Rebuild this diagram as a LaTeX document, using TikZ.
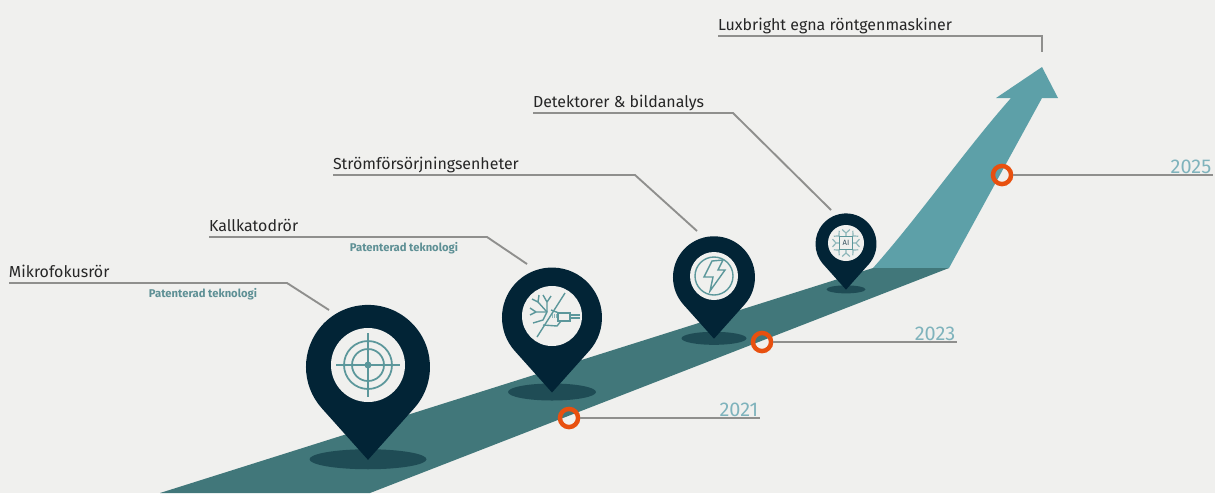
\documentclass[tikz,border=0pt]{standalone}
\usepackage{fontspec}
\setmainfont{Fira Sans}
\usepackage{xcolor}
\usetikzlibrary{positioning,calc}

\definecolor{bgcol}{HTML}{F0F0EE}
\definecolor{roadcol}{HTML}{41777A}
\definecolor{arrowcol}{HTML}{5DA0A8}
\definecolor{shadowcol}{HTML}{1F4C55}
\definecolor{pincol}{HTML}{022436}
\definecolor{iconcol}{HTML}{5C979B}
\definecolor{ringcol}{HTML}{E8500F}
\definecolor{yearcol}{HTML}{7FB3BC}
\definecolor{notecol}{HTML}{5E9095}
\definecolor{leadcol}{HTML}{8F8F8D}

% pin: x, y, radius, inner radius, shadow rx, shadow ry
\newcommand{\mappin}[6]{
	\fill[shadowcol] (#1, #2+1.52*#3) ellipse [x radius=#5, y radius=#6];
	\begin{scope}[shift={(#1, #2+0.03*#3)}, x=#3*0.03cm, y=#3*0.03cm]
		\fill[pincol] (0, -1.5) -- (0.745, -0.667) arc[start angle=-41.8, end angle=221.8, radius=1] -- cycle;
	\end{scope}
	\fill[bgcol] (#1, #2) circle [radius=#4];
}

\begin{document}
\begin{tikzpicture}[
						x=0.03cm, y=-0.03cm,
						leader/.style={
							draw=leadcol, line width=1.6pt, line join=miter
						},
						lbl/.style={
							font=\fontsize{13.6}{15}\selectfont, text=black!85,
							anchor=south west, inner sep=0pt, outer sep=0pt,
							text height=11pt, text depth=4.4pt
						},
						note/.style={
							font=\fontsize{9.6}{11}\selectfont\bfseries, text=notecol,
							inner sep=0pt
						},
						yearlbl/.style={
							font=\fontsize{17}{19}\selectfont, text=yearcol,
							anchor=south east, inner xsep=1.5pt, inner ysep=0pt, outer sep=0pt,
							text height=13pt, text depth=1.5pt
						},
						ring/.style={
							circle, draw=ringcol, line width=3.8pt,
							minimum size=15.5pt, inner sep=0pt
						},
						icon/.style={
							draw=iconcol, line width=1.2pt
						}
						]
						\useasboundingbox (0, 0) rectangle (1215, 493);
						\fill[bgcol] (0, 0) rectangle (1215, 493);
						
						% === Arrow and road ===
						\fill[arrowcol] (873, 268) .. controls (920, 215) and (965, 150) .. (1011, 98)
							-- (996, 98) -- (1042, 67) -- (1058, 98) -- (1042, 98) -- (949, 268) -- cycle;
						\fill[roadcol] (160, 493) -- (873, 268) -- (949, 268) -- (370, 493) -- cycle;
						
						% === Pins ===
						\mappin{368}{365}{62}{37}{58.5}{10}
						\mappin{552}{316}{50}{30}{44}{8.5}
						\mappin{714}{276}{41}{24}{32.5}{6.5}
						\mappin{846}{243}{30.5}{18}{19.5}{4}
						
						% Target icon
						\begin{scope}[shift={(368, 365)}]
							\draw[icon, line width=1.5pt] (0, 0) circle [radius=24] (0, 0) circle [radius=16];
							\draw[icon, line width=1.5pt] (-32, 0) -- (32, 0) (0, -32) -- (0, 32);
							\fill[iconcol] (0, 0) circle [radius=3.5];
						\end{scope}
						
						% Neuron icon
						\begin{scope}[shift={(552, 316)}]
							\draw[icon] (13, -23) -- (-15, 21);
							\draw[icon] (-5, -4) -- (-14, -14) (-14, -14) -- (-20, -17) (-14, -14) -- (-13, -21);
							\draw[icon] (-5, -4) -- (-5, -14) (-5, -14) -- (-9, -21) (-5, -14) -- (-1, -20);
							\draw[icon] (-5, -4) -- (-16, -4) (-16, -4) -- (-22, -8) (-16, -4) -- (-22, -1);
							\draw[icon] (-5, -4) -- (-9, 4) -- (-19, 7);
							\draw[icon] (-1, -6) -- (7, -3) (-9, 9) -- (5, 10) -- (9, 5);
							\draw[icon] (6, -3) rectangle (18, 5);
							\draw[icon] (18, -1) -- (28, -1) (18, 2) -- (28, 2);
							\draw[icon, draw=iconcol!70, line width=0.6pt] (0, -2) -- (0, 2) (2, -2) -- (2, 2) (4, -2) -- (4, 2);
						\end{scope}
						
						% Bolt icon
						\begin{scope}[shift={(714, 276)}]
							\draw[icon] (0, 0) circle [radius=19];
							\draw[icon, fill=bgcol, line join=miter] (-2, -15) -- (9, -16) -- (4, -6) -- (11, -6) -- (-4, 15) -- (-1, 1) -- (-10, 1) -- cycle;
						\end{scope}
						
						% Chip icon
						\begin{scope}[shift={(846, 243)}]
							\foreach \ang in {0, 45, ..., 315} {
								\draw[icon, draw=iconcol!70, line width=1pt] (\ang:6) -- (\ang:10) (\ang:10) -- (\ang+16:14) (\ang:10) -- (\ang-16:14);
							}
							\node[draw=iconcol, fill=bgcol, line width=0.7pt, minimum size=11pt, inner sep=0pt, font=\fontsize{6.5}{7}\selectfont, text=pincol!80] (chip) at (0, 0) {AI};
						\end{scope}
						
						% === Labels and leader lines ===
						\foreach \txt/\xa/\ya/\xb/\xc/\yc [count=\i] in {
							Mikrofokusrör/9/283/287/329/310,
							Kallkatodrör/209/237/487/527/264,
							Strömförsörjningsenheter/333/175/635/697/231,
							{Detektorer \& bildanalys}/533/113/733/831/210,
							Luxbright egna röntgenmaskiner/718/36/1042/1042/52} {
							\node[lbl] (lbl\i) at (\xa, \ya) {\txt};
							\coordinate (knee\i) at (\xb, \ya);
							\coordinate (end\i) at (\xc, \yc);
							\draw[leader] (lbl\i.south west) -- (knee\i) -- (end\i);
						}
						\node[note] (note1) at (203, 294) {Patenterad teknologi};
						\node[note] (note2) at (404, 248) {Patenterad teknologi};
						
						% === Years ===
						\foreach \yr/\xr/\yb/\xe [count=\i] in {2021/569/418/760, 2023/762/342/957, 2025/1002/175/1213} {
							\node[ring] (ring\i) at (\xr, \yb) {};
							\node[yearlbl] (year\i) at (\xe, \yb) {\yr};
							\draw[leader] (ring\i) -- (ring\i -| year\i.south east);
						}
						
					\end{tikzpicture}
\end{document}
